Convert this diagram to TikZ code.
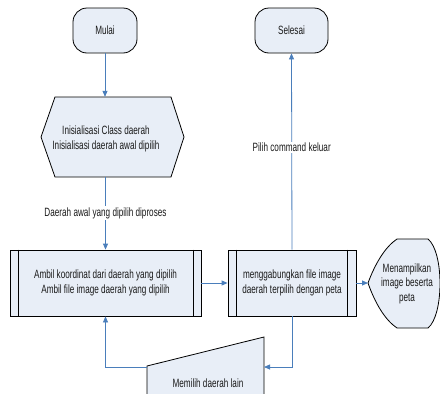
\documentclass[tikz,border=0pt]{standalone}
\usepackage{fontspec}
\newfontfamily\diagfont{Liberation Sans}[FakeStretch=0.68]
\usetikzlibrary{arrows.meta}
\definecolor{boxfill}{HTML}{E8EEF7}
\definecolor{flowblue}{HTML}{4A7EBB}
\definecolor{inkgrey}{HTML}{1A1A1A}
\tikzset{
  txt/.style={font=\diagfont\fontsize{12}{14.5}\selectfont, text=inkgrey, align=center, inner sep=0pt},
  frame/.style={txt, draw=black, fill=boxfill, line width=0.8pt},
  terminal/.style={frame, rounded corners=14pt, minimum height=45pt},
  procbox/.style={frame, minimum height=66pt},
  outline/.style={draw=black, fill=boxfill, line width=0.8pt},
  flow/.style={draw=flowblue, line width=0.8pt, -{Triangle[length=6pt,width=5pt]}},
  lbl/.style={txt, fill=white, inner sep=1.5pt}
}
\begin{document}
\begin{tikzpicture}[x=1pt,y=-1pt]
\useasboundingbox (0,0) rectangle (440,394);
\clip (0,0) rectangle (440,394);

% terminators
\node[terminal, minimum width=64pt] (start) at (105,30.5) {Mulai};
\node[terminal, minimum width=73pt] (stop) at (291.5,30.5) {Selesai};

% preparation (hexagon)
\node[txt, minimum width=143pt, minimum height=80pt] (init) at (112.5,137) {};
\draw[outline] (41,137) -- (55,97) -- (171,97) -- (184,137) -- (171,177) -- (55,177) -- cycle;
\node[txt] (inittxt) at (106,139) {Inisialisasi Class daerah\\Inisialisasi daerah awal dipilih};

% predefined processes
\node[procbox, minimum width=191pt] (proc1) at (105.5,283)
  {Ambil koordinat dari daerah yang dipilih\\Ambil file image daerah yang dipilih};
\draw[line width=0.8pt] ([xshift=9pt]proc1.north west) -- ([xshift=9pt]proc1.south west)
  ([xshift=-8pt]proc1.north east) -- ([xshift=-8pt]proc1.south east);
\node[procbox, minimum width=128pt] (proc2) at (292,283)
  {menggabungkan file image\\daerah terpilih dengan peta};
\draw[line width=0.8pt] ([xshift=9pt]proc2.north west) -- ([xshift=9pt]proc2.south west)
  ([xshift=-9pt]proc2.north east) -- ([xshift=-9pt]proc2.south east);

% display
\draw[outline] (368,283) .. controls (375,264) and (385,247) .. (397,239) -- (428,239)
  .. controls (444,252) and (444,315) .. (428,328) -- (397,328)
  .. controls (385,320) and (375,303) .. (368,283) -- cycle;
\node[txt, minimum width=72pt, minimum height=89pt] (disp) at (404,283.5) {};
\coordinate (dispL) at (368,283);
\node[txt] (disptxt) at (407,283.5) {Menampilkan\\image beserta\\peta};

% manual input
\draw[outline] (147,400) -- (147,366) -- (264,337) -- (264,400) -- cycle;
\node[txt] (manual) at (208,383) {Memilih daerah lain};
\coordinate (manR) at (264,367);
\coordinate (manL) at (147,367);

% connectors
\draw[flow] (start.south) -- (start.south |- init.north);
\draw[flow] (proc1.north |- init.south) -- node[lbl] {Daerah awal yang dipilih diproses} (proc1.north);
\draw[flow] (proc1.east) -- (proc2.west);
\draw[flow] (proc2.east) -- (dispL);
\draw[flow] (proc2.north) -- node[lbl, pos=0.52] {Pilih command keluar} (stop.south);
\draw[flow] (proc2.south) |- (manR);
\draw[flow] (manL) -| (proc1.south);
\end{tikzpicture}
\end{document}
